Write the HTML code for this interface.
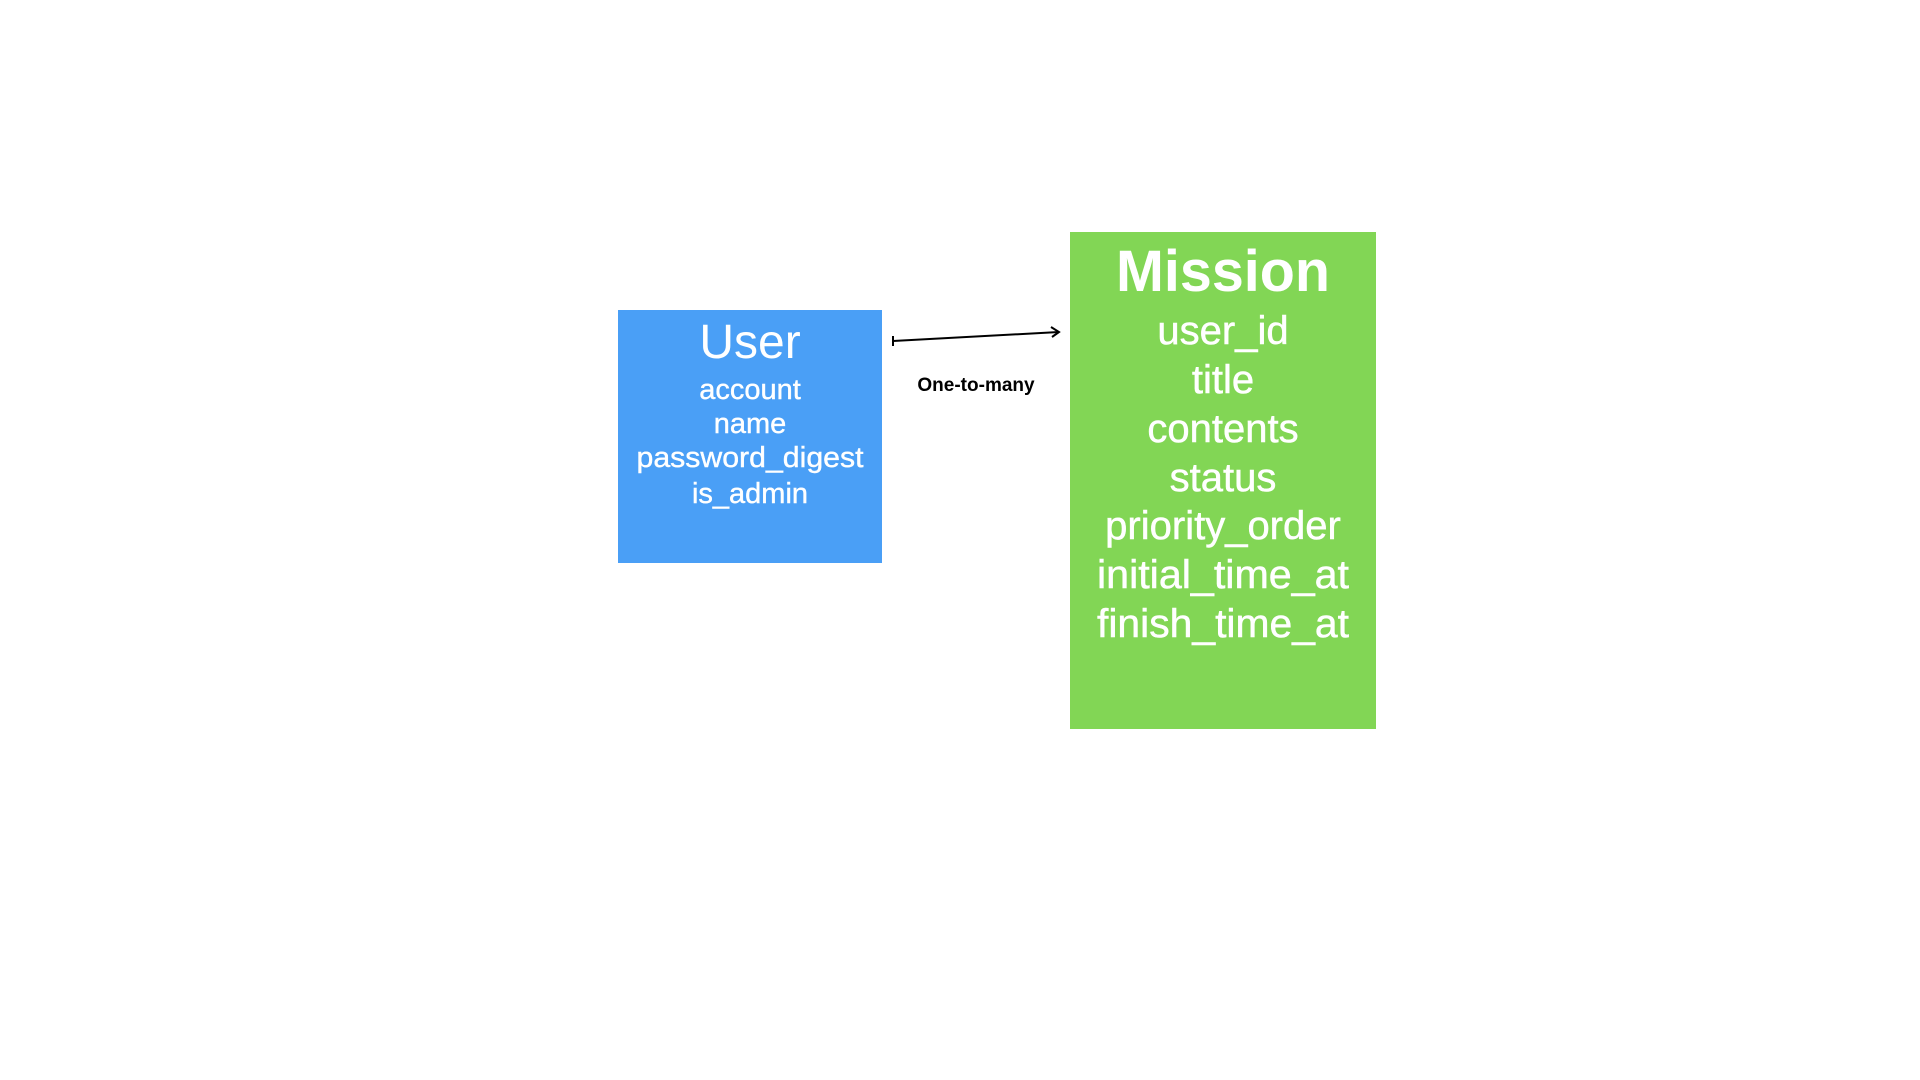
<!DOCTYPE html>
<html><head><meta charset="utf-8"><style>
html,body{margin:0;padding:0;background:#fff;}
svg{display:block;}
text{font-family:"Liberation Sans",Arial,sans-serif;fill:#fff;text-anchor:middle;}
</style></head><body>
<svg width="1920" height="1080" viewBox="0 0 1920 1080">
<rect x="618" y="310" width="264" height="253" fill="#4A9FF6"/>
<rect x="1070" y="232" width="306" height="497" fill="#82D655"/>
<text x="750" y="358" font-size="48">User</text>
<g font-size="29" stroke="#fff" stroke-width="0.4">
<text x="750" y="399">account</text>
<text x="750" y="433">name</text>
<text x="750" y="467" textLength="227" lengthAdjust="spacingAndGlyphs">password_digest</text>
<text x="750" y="503">is_admin</text>
</g>
<text x="1223" y="291" font-size="58" font-weight="bold" textLength="214" lengthAdjust="spacingAndGlyphs">Mission</text>
<g font-size="40" stroke="#fff" stroke-width="0.5">
<text x="1223" y="344">user_id</text>
<text x="1223" y="393">title</text>
<text x="1223" y="442">contents</text>
<text x="1223" y="491">status</text>
<text x="1223" y="539">priority_order</text>
<text x="1223" y="588" textLength="252" lengthAdjust="spacingAndGlyphs">initial_time_at</text>
<text x="1223" y="637" textLength="252" lengthAdjust="spacingAndGlyphs">finish_time_at</text>
</g>
<line x1="893" y1="341" x2="1059" y2="332" stroke="#000" stroke-width="2"/>
<line x1="893" y1="336" x2="893" y2="346" stroke="#000" stroke-width="2"/>
<polyline points="1051,327 1059,332 1052,337" fill="none" stroke="#000" stroke-width="2"/>
<text x="976" y="391" font-size="19" font-weight="bold" style="fill:#000">One-to-many</text>
</svg>
</body></html>
